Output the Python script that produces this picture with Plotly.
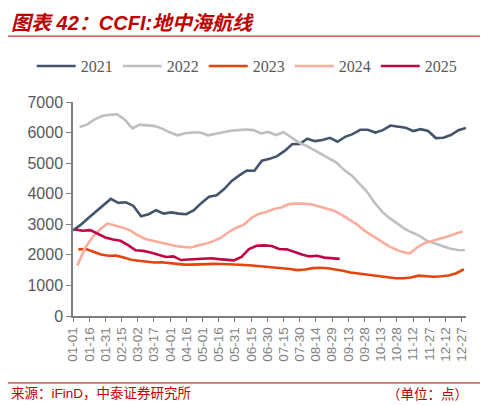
import plotly.graph_objects as go

# x-axis tick labels (mm-dd, every 15 days of a non-leap year)
tick_labels = ["01-01", "01-16", "01-31", "02-15", "03-02", "03-17", "04-01", "04-16",
               "05-01", "05-16", "05-31", "06-15", "06-30", "07-15", "07-30", "08-14",
               "08-29", "09-13", "09-28", "10-13", "10-28", "11-12", "11-27", "12-12", "12-27"]
tick_days = [i * 15 for i in range(len(tick_labels))]

# CCFI is published weekly (Fridays); day-of-year of the first Friday for each year
first_friday = {"2021": 0, "2022": 6, "2023": 5, "2024": 4, "2025": 2}

ccfi_2021 = [2800, 2980, 3200, 3420, 3640, 3830, 3700, 3720, 3600, 3260, 3330, 3460, 3350,
             3390, 3350, 3330, 3460, 3700, 3900, 3950, 4150, 4420, 4600, 4760, 4750, 5080,
             5140, 5230, 5400, 5620, 5630, 5800, 5720, 5760, 5830, 5700, 5860, 5950, 6090,
             6090, 6000, 6080, 6230, 6190, 6160, 6050, 6110, 6050, 5820, 5830, 5920, 6080, 6150]
ccfi_2022 = [6180, 6260, 6430, 6540, 6580, 6600, 6420, 6140, 6260, 6240, 6210, 6120, 6000,
             5910, 5980, 6000, 6000, 5910, 5960, 6010, 6060, 6080, 6100, 6080, 5970, 6020,
             5920, 6010, 5840, 5680, 5570, 5430, 5290, 5160, 5020, 4780, 4600, 4340, 4080,
             3720, 3420, 3210, 3020, 2860, 2730, 2620, 2460, 2380, 2310, 2210, 2160, 2150]
ccfi_2023 = [2180, 2190, 2100, 2010, 1970, 1975, 1910, 1840, 1810, 1770, 1750, 1760, 1730,
             1720, 1680, 1680, 1695, 1700, 1705, 1700, 1695, 1685, 1670, 1650, 1630, 1620,
             1600, 1570, 1540, 1500, 1520, 1565, 1580, 1560, 1530, 1480, 1420, 1390, 1340,
             1310, 1275, 1245, 1235, 1235, 1260, 1320, 1295, 1285, 1300, 1325, 1400, 1530]
ccfi_2024 = [1650, 2220, 2570, 2830, 3030, 2970, 2890, 2800, 2640, 2520, 2460, 2400, 2330,
             2290, 2260, 2240, 2310, 2360, 2450, 2560, 2740, 2880, 2980, 3200, 3340, 3400,
             3500, 3550, 3660, 3680, 3670, 3650, 3580, 3510, 3440, 3310, 3160, 3000, 2790,
             2630, 2460, 2320, 2190, 2090, 2050, 2250, 2390, 2460, 2510, 2600, 2690, 2760]
ccfi_2025 = [2830, 2790, 2810, 2680, 2570, 2500, 2460, 2320, 2150, 2130, 2080, 2000, 1930,
             1950, 1830, 1850, 1870, 1870, 1890, 1860, 1830, 1820, 1930, 2190, 2300, 2310,
             2290, 2190, 2180, 2090, 2010, 1950, 1970, 1910, 1890, 1870]

series = [
    ("2021", ccfi_2021, "#44546A"),
    ("2022", ccfi_2022, "#BFBFBF"),
    ("2023", ccfi_2023, "#E2450F"),
    ("2024", ccfi_2024, "#F8AD9D"),
    ("2025", ccfi_2025, "#C0063F"),
]

RED = "#C00000"

fig = go.Figure()

for name, vals, color in series:
    start = first_friday[name]
    days = [start + 7 * i for i in range(len(vals))]
    fig.add_trace(go.Scatter(x=days, y=vals, mode="lines", name=name,
                             line=dict(color=color, width=2.6)))

# --- title / footer decorations (page has an 8px body margin, figure is sized for it) ---
fig.add_shape(type="line", xref="paper", yref="paper", x0=-0.166, x1=1.043, y0=1.449, y1=1.449,
              line=dict(color=RED, width=2.5))
fig.add_shape(type="line", xref="paper", yref="paper", x0=-0.166, x1=1.043, y0=1.308, y1=1.308,
              line=dict(color=RED, width=1))
fig.add_shape(type="line", xref="paper", yref="paper", x0=-0.166, x1=1.043, y0=-0.313, y1=-0.313,
              line=dict(color=RED, width=1))

fig.add_annotation(text="<b><i>图表 42：CCFI:地中海航线</i></b>", xref="paper", yref="paper",
                   x=-0.164, y=1.369, xanchor="left", yanchor="middle", showarrow=False,
                   font=dict(family="Liberation Sans, Noto Sans CJK SC", size=20, color=RED))
fig.add_annotation(text="来源：iFinD，中泰证券研究所", xref="paper", yref="paper",
                   x=-0.164, y=-0.36, xanchor="left", yanchor="middle", showarrow=False,
                   font=dict(family="Liberation Sans, Noto Sans CJK SC", size=13.5, color=RED))
fig.add_annotation(text="（单位：点）", xref="paper", yref="paper",
                   x=1.01, y=-0.36, xanchor="right", yanchor="middle", showarrow=False,
                   font=dict(family="Noto Sans CJK SC", size=13.5, color=RED))

fig.update_layout(
    width=480, height=398,
    margin=dict(l=65, r=22, t=94, b=90),
    paper_bgcolor="white",
    plot_bgcolor="white",
    showlegend=True,
    legend=dict(orientation="h", x=-0.105, y=1.168, xanchor="left", yanchor="middle",
                font=dict(family="Liberation Serif", size=16, color="#595959"),
                itemwidth=39, traceorder="normal"),
    xaxis=dict(range=[0, 364], tickmode="array", tickvals=tick_days, ticktext=tick_labels,
               tickangle=-90, showgrid=False, zeroline=False, showline=True,
               linecolor="#7F7F7F", linewidth=1.5, ticks="outside", ticklen=4,
               tickcolor="#7F7F7F", tickfont=dict(family="Liberation Sans", size=13.5, color="#7F7F7F")),
    yaxis=dict(range=[0, 7000], dtick=1000, showgrid=False, zeroline=False, showline=True,
               linecolor="#7F7F7F", linewidth=1.5, ticks="outside", ticklen=5,
               tickcolor="#7F7F7F", tickfont=dict(family="Liberation Sans", size=16, color="#595959")),
)

fig.write_html("out.html")
